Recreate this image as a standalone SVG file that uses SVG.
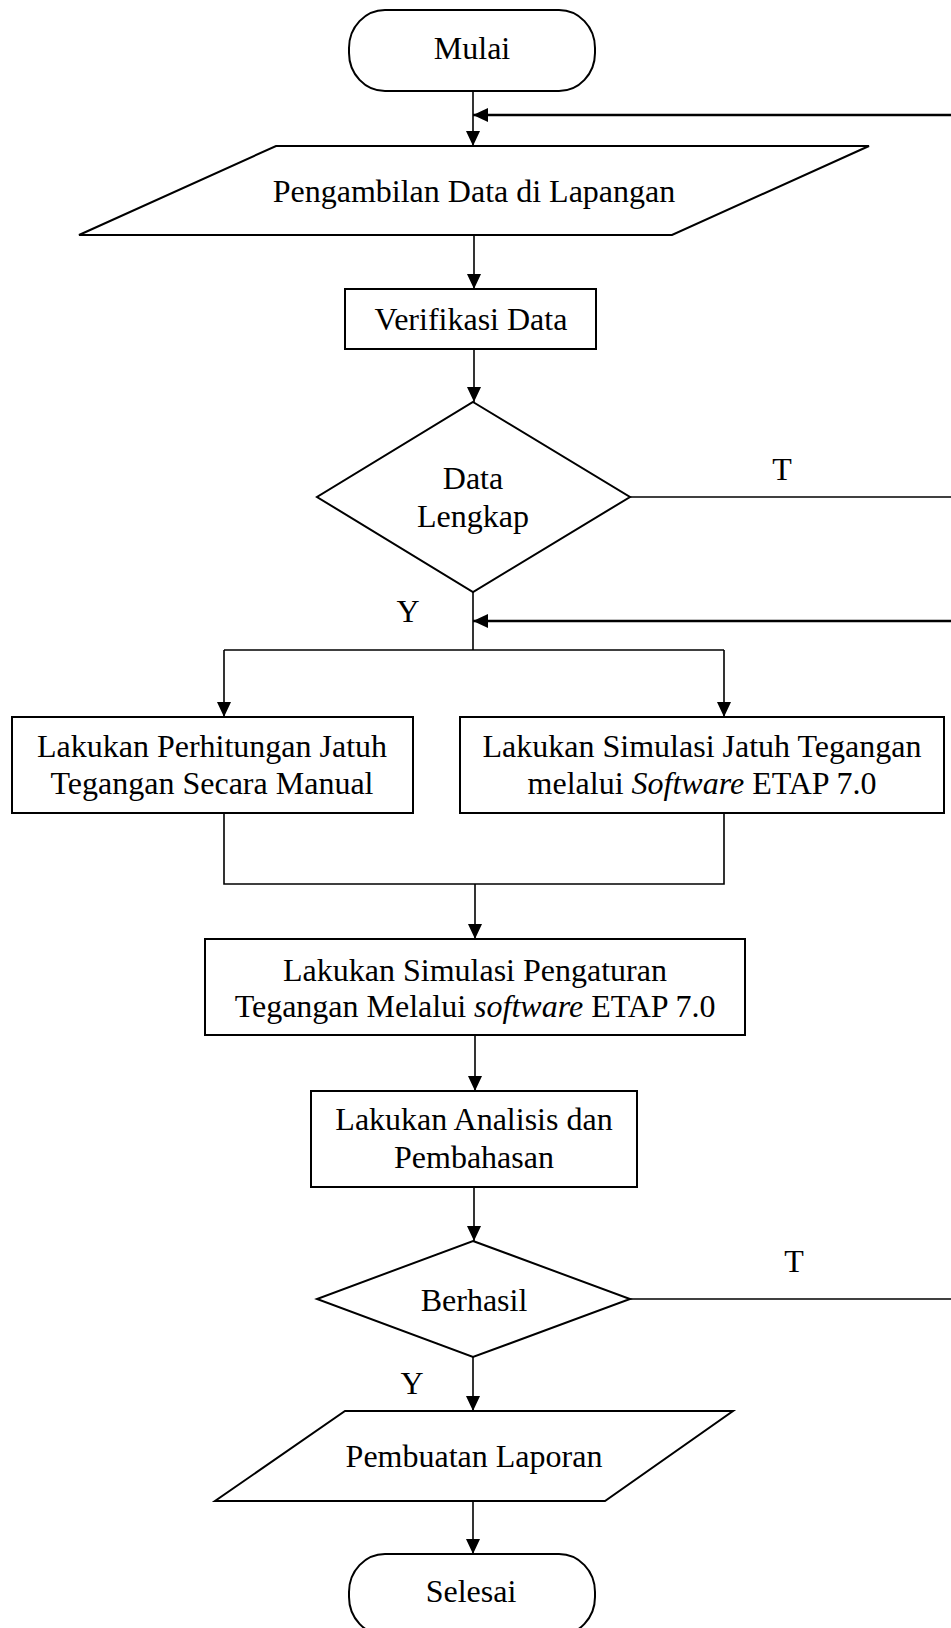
<svg xmlns="http://www.w3.org/2000/svg" width="951" height="1628" viewBox="0 0 951 1628">
<style>
.shape{fill:#fff;stroke:#000;stroke-width:2}
.conn{fill:none;stroke:#000;stroke-width:1.6}
.fb{fill:none;stroke:#000;stroke-width:2.3}
.thin{fill:none;stroke:#000;stroke-width:1.3}
text{font-family:"Liberation Serif","Times New Roman",serif;font-size:32px;fill:#000;text-anchor:middle}
.it{font-style:italic}
</style>
<defs>
<marker id="arr" viewBox="0 0 15 14" refX="15" refY="7" markerWidth="15" markerHeight="14" markerUnits="userSpaceOnUse" orient="auto">
<path d="M0,0 L15,7 L0,14 Z" fill="#000"/>
</marker>
</defs>
<rect width="951" height="1628" fill="#fff"/>
<g id="connectors">
<line class="conn" x1="473" y1="91" x2="473" y2="146" marker-end="url(#arr)"/>
<line class="fb" x1="951" y1="115" x2="473" y2="115" marker-end="url(#arr)"/>
<line class="conn" x1="474" y1="235" x2="474" y2="289" marker-end="url(#arr)"/>
<line class="conn" x1="474" y1="349" x2="474" y2="402" marker-end="url(#arr)"/>
<line class="thin" x1="630" y1="497" x2="951" y2="497"/>
<polyline class="conn" points="473,592 473,650"/>
<line class="fb" x1="951" y1="621" x2="473" y2="621" marker-end="url(#arr)"/>
<line class="conn" x1="224" y1="650" x2="724" y2="650"/>
<line class="conn" x1="224" y1="650" x2="224" y2="717" marker-end="url(#arr)"/>
<line class="conn" x1="724" y1="650" x2="724" y2="717" marker-end="url(#arr)"/>
<polyline class="conn" points="224,813 224,884 724,884 724,813"/>
<line class="conn" x1="475" y1="884" x2="475" y2="939" marker-end="url(#arr)"/>
<line class="conn" x1="475" y1="1035" x2="475" y2="1091" marker-end="url(#arr)"/>
<line class="conn" x1="474" y1="1187" x2="474" y2="1241" marker-end="url(#arr)"/>
<line class="thin" x1="630" y1="1299" x2="951" y2="1299"/>
<line class="conn" x1="473" y1="1357" x2="473" y2="1411" marker-end="url(#arr)"/>
<line class="conn" x1="473" y1="1501" x2="473" y2="1554" marker-end="url(#arr)"/>
<text x="782" y="480">T</text>
<text x="408" y="622">Y</text>
<text x="794" y="1272">T</text>
<text x="412" y="1394">Y</text>
</g>
<g id="mulai">
<rect class="shape" x="349" y="10" width="246" height="81" rx="36" ry="38"/>
<text x="472" y="59">Mulai</text>
</g>
<g id="pengambilan">
<polygon class="shape" points="276,146 869,146 672,235 79,235"/>
<text x="474" y="202">Pengambilan Data di Lapangan</text>
</g>
<g id="verifikasi">
<rect class="shape" x="345" y="289" width="251" height="60"/>
<text x="471" y="330">Verifikasi Data</text>
</g>
<g id="lengkap">
<polygon class="shape" points="473,402 630,497 473,592 317,497"/>
<text x="473" y="489">Data</text>
<text x="473" y="527">Lengkap</text>
</g>
<g id="manual">
<rect class="shape" x="12" y="717" width="401" height="96"/>
<text x="212" y="757">Lakukan Perhitungan Jatuh</text>
<text x="212" y="794">Tegangan Secara Manual</text>
</g>
<g id="simulasi-jatuh">
<rect class="shape" x="460" y="717" width="484" height="96"/>
<text x="702" y="757">Lakukan Simulasi Jatuh Tegangan</text>
<text x="702" y="794">melalui <tspan class="it">Software</tspan> ETAP 7.0</text>
</g>
<g id="simulasi-pengaturan">
<rect class="shape" x="205" y="939" width="540" height="96"/>
<text x="475" y="981">Lakukan Simulasi Pengaturan</text>
<text x="475" y="1017">Tegangan Melalui <tspan class="it">software</tspan> ETAP 7.0</text>
</g>
<g id="analisis">
<rect class="shape" x="311" y="1091" width="326" height="96"/>
<text x="474" y="1130">Lakukan Analisis dan</text>
<text x="474" y="1168">Pembahasan</text>
</g>
<g id="berhasil">
<polygon class="shape" points="473,1241 630,1299 473,1357 317,1299"/>
<text x="474" y="1311">Berhasil</text>
</g>
<g id="laporan">
<polygon class="shape" points="345,1411 733,1411 605,1501 215,1501"/>
<text x="474" y="1467">Pembuatan Laporan</text>
</g>
<g id="selesai">
<rect class="shape" x="349" y="1554" width="246" height="81" rx="36" ry="38"/>
<text x="471" y="1602">Selesai</text>
</g>
</svg>
